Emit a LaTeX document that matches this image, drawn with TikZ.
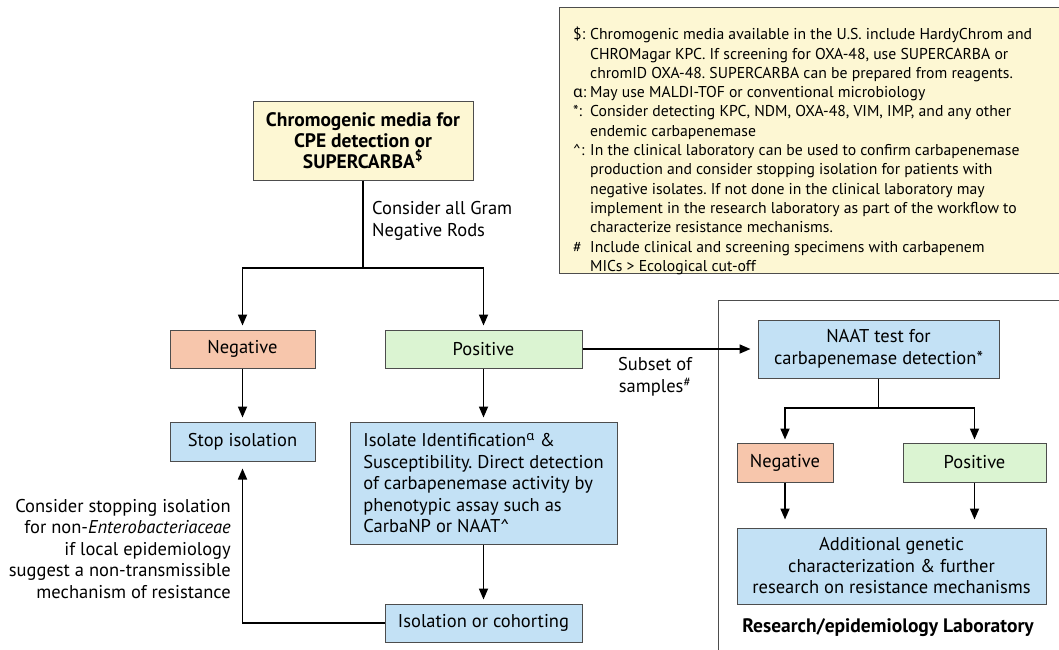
\documentclass[tikz,border=0pt]{standalone}
\usepackage{fontspec}
\setmainfont{PT Sans}
\newfontfamily\grk{Noto Sans}
\usetikzlibrary{arrows.meta}
\frenchspacing
\definecolor{yel}{HTML}{FDF7D3}
\definecolor{negc}{HTML}{F7C6AC}
\definecolor{posc}{HTML}{DBF4D2}
\definecolor{bluc}{HTML}{C3E1F5}
\definecolor{bord}{HTML}{4D4D4D}
\tikzset{
  box/.style={draw=bord, line width=1pt, align=center, inner sep=0pt},
  negbox/.style={box, fill=negc},
  posbox/.style={box, fill=posc},
  blubox/.style={box, fill=bluc},
  arr/.style={-{Triangle[length=11pt,width=9pt]}, line width=1.7pt, shorten >=4pt},
  ln/.style={line width=1.7pt},
  txt/.style={font=\fontsize{18.5}{21.5}\selectfont},
  boldtxt/.style={font=\fontsize{19.5}{21}\selectfont\bfseries},
}
\begin{document}
\begin{tikzpicture}[x=1pt,y=-1pt,txt]
\useasboundingbox (0,0) rectangle (1059,649);
\clip (0,0) rectangle (1059,649);
% legend
\node[draw=bord, line width=1.3pt, fill=yel, minimum width=520pt, minimum height=266pt, anchor=north west, inner sep=0pt] (legend) at (559,7) {};
\node[anchor=north west, inner sep=0pt, align=left, font=\fontsize{15.7}{19.3}\selectfont] (legtext) at (573,26) {%
\begin{tabular}{@{}p{17pt}@{}l@{}}
\$: & Chromogenic media available in the U.S. include HardyChrom and\\
    & CHROMagar KPC. If screening for OXA-48, use SUPERCARBA or\\
    & chromID OXA-48. SUPERCARBA can be prepared from reagents.\\
{\grk α}: & May use MALDI-TOF or conventional microbiology\\
{*}: & Consider detecting KPC, NDM, OXA-48, VIM, IMP, and any other\\
   & endemic carbapenemase\\
\textasciicircum: & In the clinical laboratory can be used to confirm carbapenemase\\
   & production and consider stopping isolation for patients with\\
   & negative isolates. If not done in the clinical laboratory may\\
   & implement in the research laboratory as part of the workflow to\\
   & characterize resistance mechanisms.\\
\# & Include clinical and screening specimens with carbapenem\\
   & MICs > Ecological cut-off
\end{tabular}};
% research frame
\node[draw=bord, line width=1pt, minimum width=360pt, minimum height=370pt, anchor=north west, inner sep=0pt] (frame) at (718,300) {};
% main nodes
\node[box, fill=yel, minimum width=220pt, minimum height=79pt, boldtxt] (top) at (363,140.5) {Chromogenic media for\\CPE detection or\\SUPERCARBA\textsuperscript{\$}};
\node[negbox, minimum width=145pt, minimum height=38pt] (neg1) at (242.5,349) {Negative};
\node[blubox, minimum width=145pt, minimum height=39pt] (stop) at (242.5,441.5) {Stop isolation};
\node[posbox, minimum width=197pt, minimum height=38pt] (pos1) at (483.5,349) {Positive};
\node[blubox, minimum width=267pt, minimum height=122pt, align=left] (iso) at (483.5,483) {Isolate Identification\textsuperscript{\grk α} \&\\Susceptibility. Direct detection\\of carbapenemase activity by\\phenotypic assay such as\\CarbaNP or NAAT\textasciicircum};
\node[blubox, minimum width=197pt, minimum height=38pt] (coh) at (483.5,623) {Isolation or cohorting};
\node[blubox, minimum width=241pt, minimum height=58pt] (naat) at (878.5,349) {NAAT test for\\carbapenemase detection*};
\node[negbox, minimum width=96pt, minimum height=39pt] (neg2) at (785,462.5) {Negative};
\node[posbox, minimum width=143pt, minimum height=39pt] (pos2) at (974.5,462.5) {Positive};
\node[blubox, minimum width=309pt, minimum height=76pt] (add) at (891.5,566) {Additional genetic\\characterization \& further\\research on resistance mechanisms};
\node[boldtxt, inner sep=0pt] (rlab) at (888,628) {Research/epidemiology Laboratory};
% labels
\node[anchor=west, align=left, inner sep=0pt] (gramlab) at (372,221) {Consider all Gram\\Negative Rods};
\node[align=center, inner sep=0pt] (sublab) at (655,377) {Subset of\\samples\textsuperscript{\#}};
\node[anchor=east, align=right, inner sep=0pt] (leftlab) at (231,549) {Consider stopping isolation\\for non-\textit{Enterobacteriaceae}\\if local epidemiology\\suggest a non-transmissible\\mechanism of resistance};
% connectors
\coordinate (j1) at (363,268);
\coordinate (j2) at (878.5,408);
\draw[ln] (top.south) -- (j1);
\draw[arr] (j1) -| (neg1.north);
\draw[arr] (j1) -| (pos1.north);
\draw[arr] (neg1) -- (stop);
\draw[arr] (pos1) -- (iso);
\draw[arr] (iso) -- (coh);
\draw[arr, shorten >=7pt] (coh.west) -| (stop.south);
\draw[arr, shorten >=7pt] (pos1.east) -- (naat.west);
\draw[ln] (naat.south) -- (j2);
\draw[arr, shorten >=3pt] (j2) -| (neg2.north);
\draw[arr, shorten >=3pt] (j2) -| (pos2.north);
\draw[arr, shorten >=8pt] (neg2.south) -- (neg2.south |- add.north);
\draw[arr, shorten >=8pt] (pos2.south) -- (pos2.south |- add.north);
\end{tikzpicture}
\end{document}
